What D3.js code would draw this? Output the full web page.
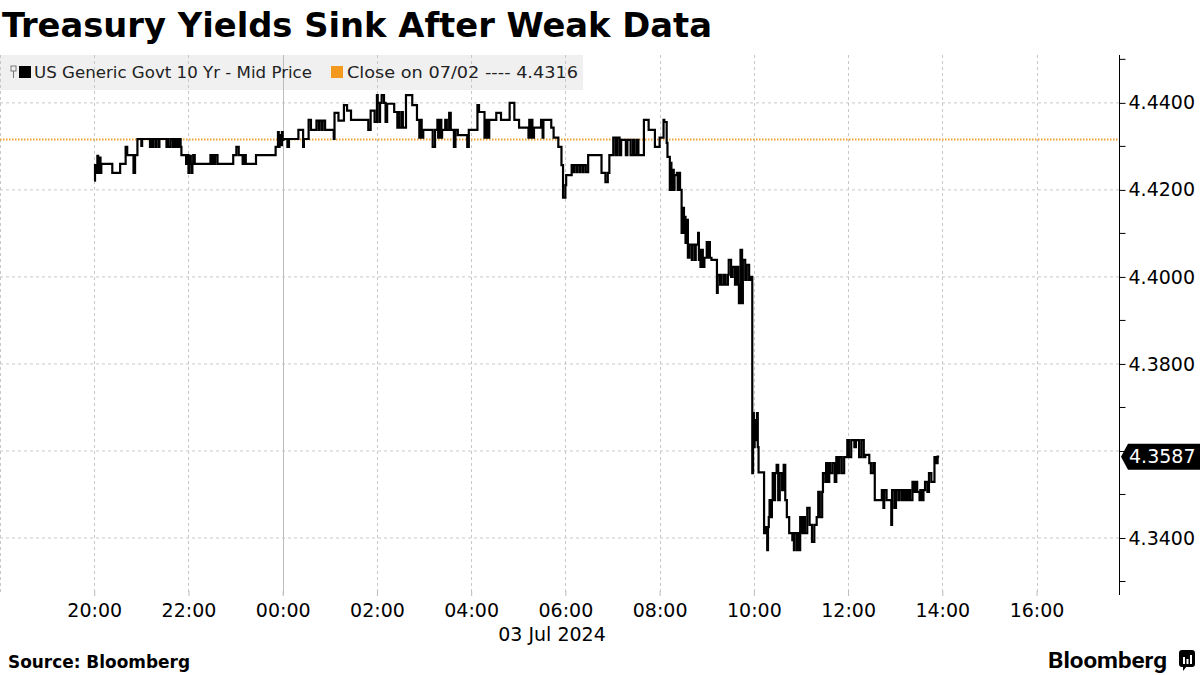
<!DOCTYPE html>
<html>
<head>
<meta charset="utf-8">
<script src="https://cdn.jsdelivr.net/npm/d3@7"></script>
<style>
   body { margin: 0; background: #fff; }
   svg { display: block; font-family: 'DejaVu Sans', sans-serif; }
</style>
</head>
<body>
<svg id="chart" width="1200" height="675"></svg>
<script>

// STEP POINTS: MINUTES AFTER 20:00 ON 07/02, AND THE 10 YR YIELD AT THAT MINUTE
var minutes = [
   0, 1, 3, 4, 5, 6, 8, 9, 23, 33, 40, 42, 50, 52, 55, 60, 61, 71, 73, 74, 75, 78, 79, 82, 83, 92, 93, 94, 97, 100,
   101, 103, 105, 107, 109, 110, 111, 117, 119, 120, 121, 123, 124, 125, 126, 128, 148, 149, 151, 153, 154, 157, 177, 181, 184, 189, 191, 193, 206, 231,
   234, 235, 236, 237, 239, 240, 241, 246, 248, 260, 266, 267, 273, 276, 283, 286, 287, 290, 291, 294, 305, 306, 311, 318, 322, 327, 349, 352, 357, 360,
   361, 363, 364, 366, 369, 371, 373, 382, 386, 388, 389, 392, 393, 397, 405, 411, 414, 415, 417, 419, 431, 434, 437, 438, 440, 442, 443, 447, 449, 452,
   454, 458, 460, 463, 475, 477, 488, 490, 497, 498, 499, 500, 502, 503, 512, 518, 529, 535, 541, 553, 554, 555, 557, 558, 560, 569, 571, 572, 582, 585,
   591, 595, 597, 600, 601, 608, 610, 611, 614, 615, 618, 619, 622, 623, 626, 629, 646, 651, 654, 656, 661, 664, 666, 669, 671, 677, 679, 683, 686, 688,
   691, 693, 700, 706, 714, 720, 725, 726, 729, 730, 733, 734, 735, 737, 738, 739, 742, 743, 744, 746, 748, 749, 751, 752, 753, 754, 756, 758, 761, 762,
   765, 766, 769, 770, 771, 772, 774, 775, 777, 780, 781, 783, 784, 786, 793, 794, 797, 798, 799, 802, 804, 807, 808, 811, 813, 816, 818, 820, 821, 823,
   825, 826, 829, 831, 834, 836, 838, 839, 840, 841, 843, 844, 845, 846, 853, 855, 857, 858, 859, 860, 862, 863, 864, 866, 867, 869, 871, 873, 876, 878,
   880, 882, 885, 889, 890, 891, 892, 895, 896, 897, 899, 901, 903, 905, 908, 911, 914, 917, 920, 922, 924, 927, 928, 931, 932, 934, 936, 937, 940, 943,
   945, 947, 949, 952, 955, 959, 961, 964, 968, 970, 974, 977, 980, 982, 987, 989, 992, 994, 1003, 1005, 1006, 1009, 1015, 1016, 1019, 1021, 1024, 1025, 1028, 1029,
   1031, 1033, 1035, 1037, 1039, 1042, 1044, 1046, 1048, 1051, 1052, 1054, 1056, 1058, 1061, 1063, 1066, 1070, 1072, 1074, 1076
];

var yields = [
   4.4221, 4.4257, 4.4239, 4.4278, 4.4239, 4.4274, 4.4239, 4.4260, 4.4239, 4.4260, 4.4299, 4.4280, 4.4239, 4.4280, 4.4317, 4.4301, 4.4317, 4.4299, 4.4317, 4.4299, 4.4317, 4.4299, 4.4317, 4.4299, 4.4317, 4.4299, 4.4317, 4.4299, 4.4317, 4.4299,
   4.4317, 4.4299, 4.4317, 4.4299, 4.4317, 4.4299, 4.4280, 4.4260, 4.4280, 4.4239, 4.4278, 4.4260, 4.4239, 4.4260, 4.4280, 4.4260, 4.4280, 4.4260, 4.4280, 4.4260, 4.4280, 4.4260, 4.4280, 4.4299, 4.4280, 4.4260, 4.4280, 4.4260, 4.4280, 4.4299,
   4.4333, 4.4299, 4.4326, 4.4303, 4.4333, 4.4315, 4.4317, 4.4299, 4.4317, 4.4338, 4.4299, 4.4317, 4.4361, 4.4338, 4.4359, 4.4338, 4.4359, 4.4338, 4.4359, 4.4338, 4.4317, 4.4377, 4.4359, 4.4395, 4.4382, 4.4361, 4.4338, 4.4382, 4.4356, 4.4418,
   4.4400, 4.4356, 4.4400, 4.4418, 4.4400, 4.4356, 4.4398, 4.4379, 4.4343, 4.4379, 4.4343, 4.4379, 4.4343, 4.4418, 4.4395, 4.4361, 4.4320, 4.4361, 4.4320, 4.4338, 4.4299, 4.4338, 4.4361, 4.4320, 4.4361, 4.4320, 4.4338, 4.4361, 4.4338, 4.4377,
   4.4338, 4.4299, 4.4338, 4.4326, 4.4299, 4.4338, 4.4395, 4.4379, 4.4320, 4.4361, 4.4320, 4.4361, 4.4320, 4.4361, 4.4377, 4.4361, 4.4400, 4.4361, 4.4343, 4.4320, 4.4361, 4.4320, 4.4361, 4.4320, 4.4343, 4.4361, 4.4320, 4.4361, 4.4343, 4.4320,
   4.4299, 4.4257, 4.4182, 4.4211, 4.4234, 4.4257, 4.4241, 4.4257, 4.4241, 4.4257, 4.4241, 4.4257, 4.4241, 4.4257, 4.4241, 4.4280, 4.4239, 4.4218, 4.4239, 4.4280, 4.4320, 4.4280, 4.4320, 4.4280, 4.4315, 4.4280, 4.4315, 4.4280, 4.4315, 4.4280,
   4.4315, 4.4280, 4.4361, 4.4338, 4.4299, 4.4320, 4.4361, 4.4356, 4.4308, 4.4276, 4.4200, 4.4262, 4.4200, 4.4246, 4.4200, 4.4234, 4.4239, 4.4200, 4.4239, 4.4200, 4.4101, 4.4159, 4.4101, 4.4138, 4.4078, 4.4131, 4.4044, 4.4074, 4.4039, 4.4074,
   4.4039, 4.4074, 4.4101, 4.4039, 4.4062, 4.4023, 4.4062, 4.4023, 4.4044, 4.4080, 4.4044, 4.4080, 4.4044, 4.4039, 4.3963, 4.4005, 4.3982, 4.4005, 4.3982, 4.4005, 4.3982, 4.4005, 4.4039, 4.4000, 4.4023, 4.3982, 4.4023, 4.3982, 4.3940, 4.4062,
   4.3940, 4.4039, 4.3993, 4.4028, 4.3993, 4.4000, 4.3549, 4.3687, 4.3609, 4.3671, 4.3625, 4.3687, 4.3609, 4.3551, 4.3411, 4.3425, 4.3372, 4.3425, 4.3448, 4.3487, 4.3448, 4.3487, 4.3549, 4.3487, 4.3549, 4.3568, 4.3487, 4.3549, 4.3510, 4.3568,
   4.3487, 4.3448, 4.3411, 4.3395, 4.3411, 4.3372, 4.3411, 4.3372, 4.3411, 4.3372, 4.3448, 4.3411, 4.3448, 4.3411, 4.3469, 4.3430, 4.3391, 4.3430, 4.3448, 4.3506, 4.3448, 4.3506, 4.3549, 4.3529, 4.3572, 4.3529, 4.3572, 4.3549, 4.3572, 4.3529,
   4.3586, 4.3549, 4.3586, 4.3549, 4.3586, 4.3625, 4.3586, 4.3625, 4.3609, 4.3625, 4.3586, 4.3625, 4.3586, 4.3591, 4.3572, 4.3549, 4.3572, 4.3487, 4.3510, 4.3469, 4.3510, 4.3487, 4.3430, 4.3510, 4.3469, 4.3510, 4.3487, 4.3510, 4.3487, 4.3510,
   4.3487, 4.3510, 4.3487, 4.3510, 4.3487, 4.3529, 4.3506, 4.3529, 4.3506, 4.3487, 4.3510, 4.3487, 4.3510, 4.3529, 4.3506, 4.3549, 4.3529, 4.3586, 4.3572, 4.3587, 4.3587
];

// AXIS TICKS, PRIOR CLOSE AND LAST PRICE
var yTicks = [4.34, 4.36, 4.38, 4.40, 4.42, 4.44];
var yMinorTicks = [4.33, 4.35, 4.37, 4.39, 4.41, 4.43, 4.45];
var priorClose = 4.4316;
var lastPrice = 4.3587;

// TEXTS
var title = 'Treasury Yields Sink After Weak Data';
var seriesName = 'US Generic Govt 10 Yr - Mid Price';
var closeName = 'Close on 07/02 ---- 4.4316';
var dateLabel = '03 Jul 2024';
var source = 'Source: Bloomberg';

// SETTINGS
var settings = {
   left: 0, right: 1119, top: 55, bottom: 595,
   line: '#000', close: '#eea236', grid: '#c8c8c8', legend: '#f0f0f0'
};

// BUILD DATES FROM MINUTE OFFSETS
var start = new Date(2024, 6, 2, 20, 0);
var points = minutes.map((m, i) => { return { date: d3.timeMinute.offset(start, m), value: yields[i] } });

var svg = d3.select('#chart');

// X-SCALING (18:00 AT LEFT EDGE, 47.1 PX PER HOUR)
var xScale = d3.scaleTime()
   .domain([new Date(2024, 6, 2, 18, 0), d3.timeMinute.offset(new Date(2024, 6, 2, 18, 0), Math.round(settings.right / 47.1 * 60))])
   .range([settings.left, settings.right])

// Y-SCALING
var yScale = d3.scaleLinear()
   .domain([4.3269, 4.4510])
   .range([settings.bottom, settings.top])

var xTicks = d3.timeHour.every(2).range(xScale.domain()[0], xScale.domain()[1]);

// LEGEND BACKGROUND
svg.append('rect')
   .attr('x', 0).attr('y', settings.top)
   .attr('width', 583).attr('height', 35)
   .attr('fill', settings.legend)

// HORIZONTAL GRID
svg.append('g').selectAll('line')
   .data(yTicks)
   .enter().append('line')
      .attr('x1', settings.left).attr('x2', settings.right)
      .attr('y1', d => yScale(d)).attr('y2', d => yScale(d))
      .attr('stroke', settings.grid)
      .attr('stroke-dasharray', '3,3')

// VERTICAL GRID, SOLID AT MIDNIGHT
svg.append('g').selectAll('line')
   .data(xTicks)
   .enter().append('line')
      .attr('x1', d => Math.round(xScale(d)) + 0.5).attr('x2', d => Math.round(xScale(d)) + 0.5)
      .attr('y1', settings.top).attr('y2', settings.bottom)
      .attr('stroke', d => d.getHours() === 0 ? '#bdbdbd' : settings.grid)
      .attr('stroke-dasharray', d => d.getHours() === 0 ? null : '3,3')

// PRIOR CLOSE LINE
svg.append('line')
   .attr('x1', settings.left).attr('x2', settings.right)
   .attr('y1', yScale(priorClose)).attr('y2', yScale(priorClose))
   .attr('stroke', settings.close)
   .attr('stroke-width', 2)
   .attr('stroke-dasharray', '1.5,1.5')

// PRICE LINE
var pathify = d3.line()
   .curve(d3.curveStepAfter)
   .x(d => xScale(d.date))
   .y(d => yScale(d.value))

svg.append('path')
   .attr('fill', 'none')
   .attr('stroke', settings.line)
   .attr('stroke-width', 2.2)
   .attr('d', pathify(points))

// Y-AXIS ON THE RIGHT
var yAxis = d3.axisRight(yScale)
   .tickValues(yTicks)
   .tickFormat(d3.format('.4f'))
   .tickSize(6)
   .tickPadding(3)

var yAxisG = svg.append('g')
   .attr('transform', 'translate(' + (settings.right + 0.5) + ',0)')
   .call(yAxis)

yAxisG.select('.domain').attr('d', 'M0,' + settings.top + 'V' + settings.bottom).attr('stroke', '#000')
yAxisG.selectAll('text').attr('font-size', 19).attr('fill', '#000').attr('font-family', 'DejaVu Sans')

yAxisG.selectAll('.minor')
   .data(yMinorTicks)
   .enter().append('line')
      .attr('class', 'minor')
      .attr('x1', 0).attr('x2', 6)
      .attr('y1', d => yScale(d)).attr('y2', d => yScale(d))
      .attr('stroke', '#000')

// X-AXIS TICKS AND LABELS
var xAxis = d3.axisBottom(xScale)
   .tickValues(xTicks.filter(d => xScale(d) > 20))
   .tickFormat(d3.timeFormat('%H:%M'))
   .tickSize(5)
   .tickPadding(8)

var xAxisG = svg.append('g')
   .attr('transform', 'translate(0,' + (settings.bottom - 4) + ')')
   .call(xAxis)

xAxisG.select('.domain').remove()
xAxisG.selectAll('line').attr('stroke', '#bbb')
xAxisG.selectAll('text').attr('font-size', 19).attr('fill', '#000').attr('font-family', 'DejaVu Sans')

svg.append('text')
   .attr('x', 552).attr('y', 641)
   .attr('text-anchor', 'middle')
   .attr('font-size', 19)
   .text(dateLabel)

// LAST PRICE TAG
var tagY = yScale(lastPrice);
svg.append('path')
   .attr('d', 'M' + (settings.right + 2) + ',' + tagY + 'L' + (settings.right + 9) + ',' + (tagY - 13) + 'H1200V' + (tagY + 13) + 'H' + (settings.right + 9) + 'Z')
   .attr('fill', '#000')

svg.append('text')
   .attr('x', settings.right + 10).attr('y', tagY)
   .attr('dy', '0.35em')
   .attr('font-size', 19)
   .attr('fill', '#fff')
   .text(d3.format('.4f')(lastPrice))

// LEGEND
svg.append('rect').attr('x', 11).attr('y', 66).attr('width', 5).attr('height', 5).attr('fill', 'none').attr('stroke', '#777')
svg.append('line').attr('x1', 13.5).attr('x2', 13.5).attr('y1', 71).attr('y2', 78).attr('stroke', '#777')
svg.append('rect').attr('x', 19).attr('y', 66).attr('width', 12).attr('height', 12).attr('fill', '#000')
svg.append('text').attr('x', 34).attr('y', 78).attr('font-size', 16.5).attr('fill', '#222')
   .attr('textLength', 278).attr('lengthAdjust', 'spacingAndGlyphs').text(seriesName)
svg.append('rect').attr('x', 331).attr('y', 66).attr('width', 12).attr('height', 12).attr('fill', '#f39a1e')
svg.append('text').attr('x', 347).attr('y', 78).attr('font-size', 16.5).attr('fill', '#222')
   .attr('textLength', 231).attr('lengthAdjust', 'spacingAndGlyphs').text(closeName)

// TITLE
svg.append('text')
   .attr('x', 2).attr('y', 37)
   .attr('font-family', 'DejaVu Sans Condensed, DejaVu Sans')
   .attr('font-weight', 'bold')
   .attr('font-size', 34)
   .attr('textLength', 710)
   .attr('lengthAdjust', 'spacingAndGlyphs')
   .text(title)

// FOOTER
svg.append('text')
   .attr('x', 8).attr('y', 668)
   .attr('font-family', 'DejaVu Sans Condensed, DejaVu Sans')
   .attr('font-weight', 'bold')
   .attr('font-size', 17)
   .attr('textLength', 182)
   .attr('lengthAdjust', 'spacingAndGlyphs')
   .text(source)

svg.append('text')
   .attr('x', 1048).attr('y', 668)
   .attr('font-family', 'Roboto, Inter, sans-serif')
   .attr('font-weight', 'bold')
   .attr('font-size', 22)
   .attr('textLength', 119)
   .attr('lengthAdjust', 'spacingAndGlyphs')
   .text('Bloomberg')

// LOGO MARK
svg.append('rect').attr('x', 1179).attr('y', 650).attr('width', 16).attr('height', 17).attr('rx', 3).attr('fill', '#000')
svg.append('path').attr('d', 'M1183,666 L1183,671 L1187,666 Z').attr('fill', '#000')
svg.append('g').selectAll('rect')
   .data([[1183, 657, 7], [1186.5, 659, 5], [1190, 655, 9]])
   .enter().append('rect')
      .attr('x', d => d[0]).attr('y', d => d[1])
      .attr('width', 2).attr('height', d => d[2])
      .attr('fill', '#fff')

</script>
</body>
</html>
